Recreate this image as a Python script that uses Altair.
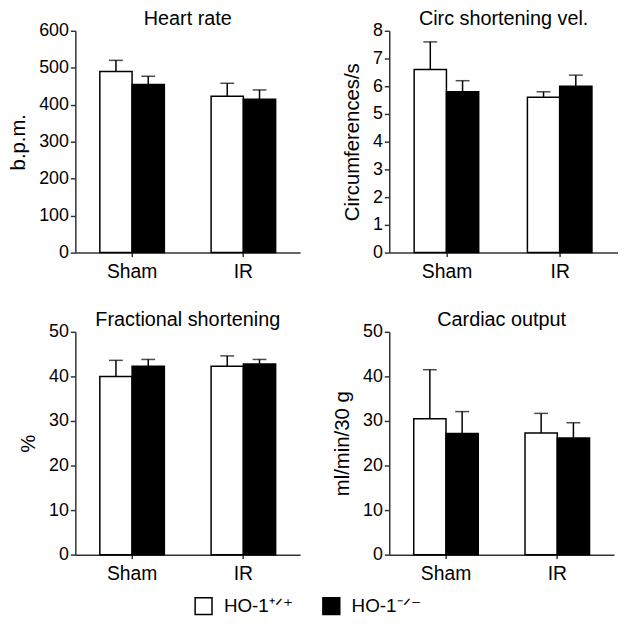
import altair as alt
import pandas as pd

FONT = "Liberation Sans"

groups = ["Sham", "IR"]
genotypes = ["HO-1⁺ᐟ⁺", "HO-1⁻ᐟ⁻"]

# order: Sham/WT, Sham/KO, IR/WT, IR/KO
heart_rate_mean = [490, 455, 423, 415]
heart_rate_upper = [520, 477, 458, 440]

circ_mean = [6.6, 5.8, 5.6, 6.0]
circ_upper = [7.6, 6.2, 5.8, 6.4]

fs_mean = [40.0, 42.3, 42.3, 42.8]
fs_upper = [43.6, 43.8, 44.6, 43.8]

co_mean = [30.5, 27.2, 27.3, 26.2]
co_upper = [41.5, 32.1, 31.7, 29.6]

legend = alt.Legend(
    title=None, orient="none", legendX=120, legendY=571, direction="horizontal",
    columns=2, symbolType="square", symbolSize=290, symbolStrokeColor="black",
    symbolStrokeWidth=1.5, labelFont=FONT, labelFontSize=19, labelColor="black",
    columnPadding=26, labelOffset=11, padding=0,
)


def panel(title, ytitle, means, uppers, ymax, ystep, width, height):
    df = pd.DataFrame({
        "group": [g for g in groups for _ in genotypes],
        "genotype": genotypes * 2,
        "mean": means,
        "upper": uppers,
    })
    x = alt.X("group:N", sort=groups,
              scale=alt.Scale(domain=groups, paddingInner=0.42, paddingOuter=0.22),
              axis=alt.Axis(title=None, labelAngle=0, labelFontSize=19.5, tickSize=4,
                            labelPadding=6))
    xo = alt.XOffset("genotype:N", sort=genotypes, scale=alt.Scale(domain=genotypes))
    yvals = [ystep * i for i in range(int(round(ymax / ystep)) + 1)]
    yscale = alt.Scale(domain=[0, ymax], nice=False)
    yaxis = alt.Axis(values=yvals, title=ytitle, grid=False, tickSize=5,
                     labelPadding=2, titlePadding=10, labelOverlap=False,
                     labelFlush=False)
    y = alt.Y("mean:Q", scale=yscale, axis=yaxis)
    yup = alt.Y("upper:Q", scale=yscale, axis=yaxis)
    base = alt.Chart(df)
    bars = base.mark_bar(stroke="black", strokeWidth=1.5).encode(
        x=x, xOffset=xo, y=y,
        fill=alt.Fill("genotype:N", sort=genotypes,
                      scale=alt.Scale(domain=genotypes, range=["white", "black"]),
                      legend=legend),
    )
    rule = base.mark_rule(color="black", strokeWidth=1.5).encode(
        x=x, xOffset=xo, y=y, y2="upper:Q")
    cap = base.mark_tick(color="black", thickness=1.5, size=14, orient="horizontal").encode(
        x=x, xOffset=xo, y=yup)
    return alt.layer(bars, rule, cap).properties(
        width=width, height=height,
        title=alt.TitleParams(title, font=FONT, fontSize=20, fontWeight="normal",
                              color="black", offset=-7, anchor="middle", frame="group"),
    )


p1 = panel("Heart rate", "b.p.m.", heart_rate_mean, heart_rate_upper, 600, 100, 227, 224)
p2 = panel("Circ shortening vel.", "Circumferences/s", circ_mean, circ_upper, 8, 1, 231, 224)
p3 = panel("Fractional shortening", "%", fs_mean, fs_upper, 50, 10, 227, 225)
p4 = panel("Cardiac output", "ml/min/30 g", co_mean, co_upper, 50, 10, 227, 225)

chart = alt.concat(
    p1, p2, p3, p4, columns=2, spacing={"row": 80, "column": 90}, bounds="flush"
).properties(
    padding={"top": -2, "left": 0, "right": 0, "bottom": 0}, background="white"
).configure_view(stroke=None).configure_axis(
    domainColor="#333333", domainWidth=1.5, tickColor="#333333", tickWidth=1.5,
    labelFont=FONT, labelFontSize=18, labelColor="black",
    titleFont=FONT, titleFontSize=20.5, titleFontWeight="normal", titleColor="black",
)

chart.save("out.html", embed_options={"renderer": "svg", "actions": False})
